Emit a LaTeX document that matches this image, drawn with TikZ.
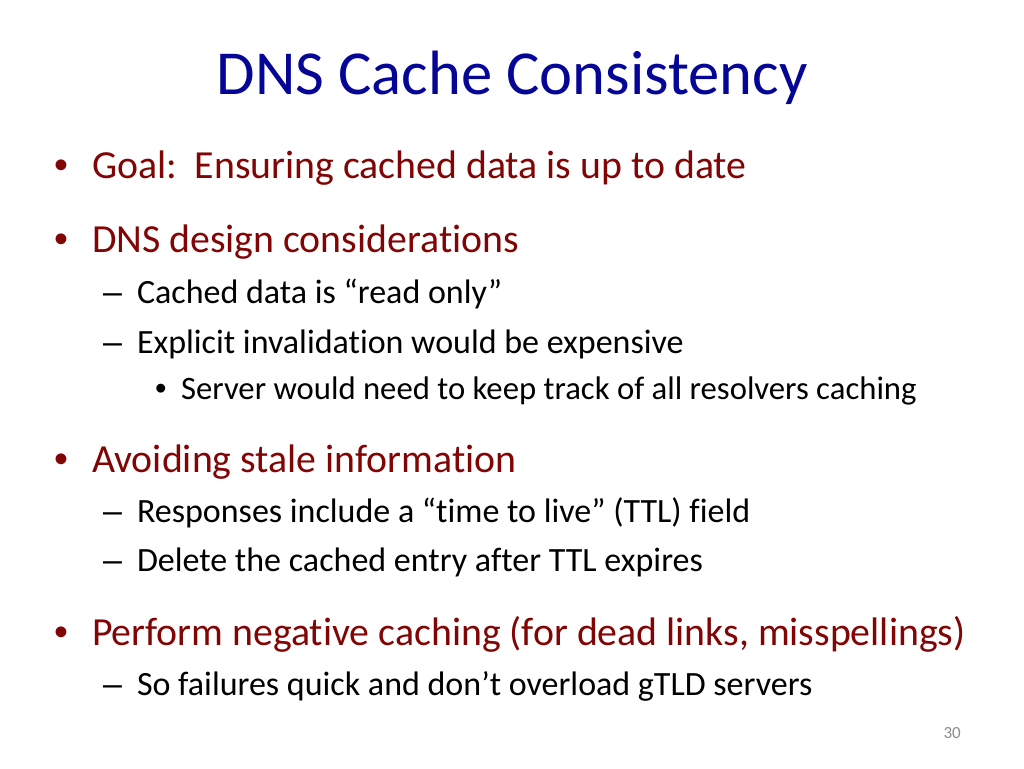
\documentclass[tikz,border=0pt]{standalone}
\usepackage{fontspec}
\setmainfont{Carlito}[Ligatures=NoCommon]
\newfontfamily\bulletfont{Liberation Sans}
\definecolor{titleblue}{RGB}{5,5,150}
\definecolor{darkred}{RGB}{130,5,5}
\definecolor{pagegray}{RGB}{140,140,140}
\begin{document}
\begin{tikzpicture}[x=1pt,y=-1pt,
  txt/.style={anchor=base west,inner sep=0pt,outer sep=0pt},
  lvlone/.style={txt,text=darkred,font=\fontsize{39.8}{46}\selectfont},
  lvltwo/.style={txt,text=black,font=\fontsize{34}{40}\selectfont},
  lvlthree/.style={txt,text=black,font=\fontsize{32.7}{38}\selectfont},
  bulone/.style={txt,text=darkred,font=\bulletfont\fontsize{39.8}{46}\selectfont},
  dashtwo/.style={txt,text=black,font=\bulletfont\fontsize{34}{40}\selectfont},
  bulthree/.style={txt,text=black,font=\bulletfont\fontsize{32.7}{38}\selectfont},
  titlestyle/.style={anchor=base,inner sep=0pt,text=titleblue,font=\fontsize{62.6}{70}\selectfont}]
\useasboundingbox[fill=white] (0,0) rectangle (1024,768);
\node[titlestyle] (title) at (512,94) {DNS Cache Consistency};
% level one bullets
\node[bulone] (b1) at (54,178) {•};
\node[lvlone] (t1) at (92,178) {Goal:\ \ Ensuring cached data is up to date};
\node[bulone] (b2) at (54,252) {•};
\node[lvlone] (t2) at (92,252) {DNS design considerations};
\node[dashtwo] (d21) at (103,303) {–};
\node[lvltwo] (t21) at (137,303) {Cached data is “read only”};
\node[dashtwo] (d22) at (103,353) {–};
\node[lvltwo] (t22) at (137,353) {Explicit invalidation would be expensive};
\node[bulthree] (b221) at (155,399) {•};
\node[lvlthree] (t221) at (181,399) {Server would need to keep track of all resolvers caching};
\node[bulone] (b3) at (54,472) {•};
\node[lvlone] (t3) at (92,472) {Avoiding stale information};
\node[dashtwo] (d31) at (103,522) {–};
\node[lvltwo] (t31) at (137,522) {Responses include a “time to live” (TTL) field};
\node[dashtwo] (d32) at (103,571) {–};
\node[lvltwo] (t32) at (137,571) {Delete the cached entry after TTL expires};
\node[bulone] (b4) at (54,645) {•};
\node[lvlone] (t4) at (92,645) {Perform negative caching (for dead links, misspellings)};
\node[dashtwo] (d41) at (103,695) {–};
\node[lvltwo] (t41) at (137,695) {So failures quick and don’t overload gTLD servers};
\node[anchor=base east,inner sep=0pt,text=pagegray,font=\fontsize{17}{20}\selectfont] (pg) at (961,738) {30};
\end{tikzpicture}
\end{document}
